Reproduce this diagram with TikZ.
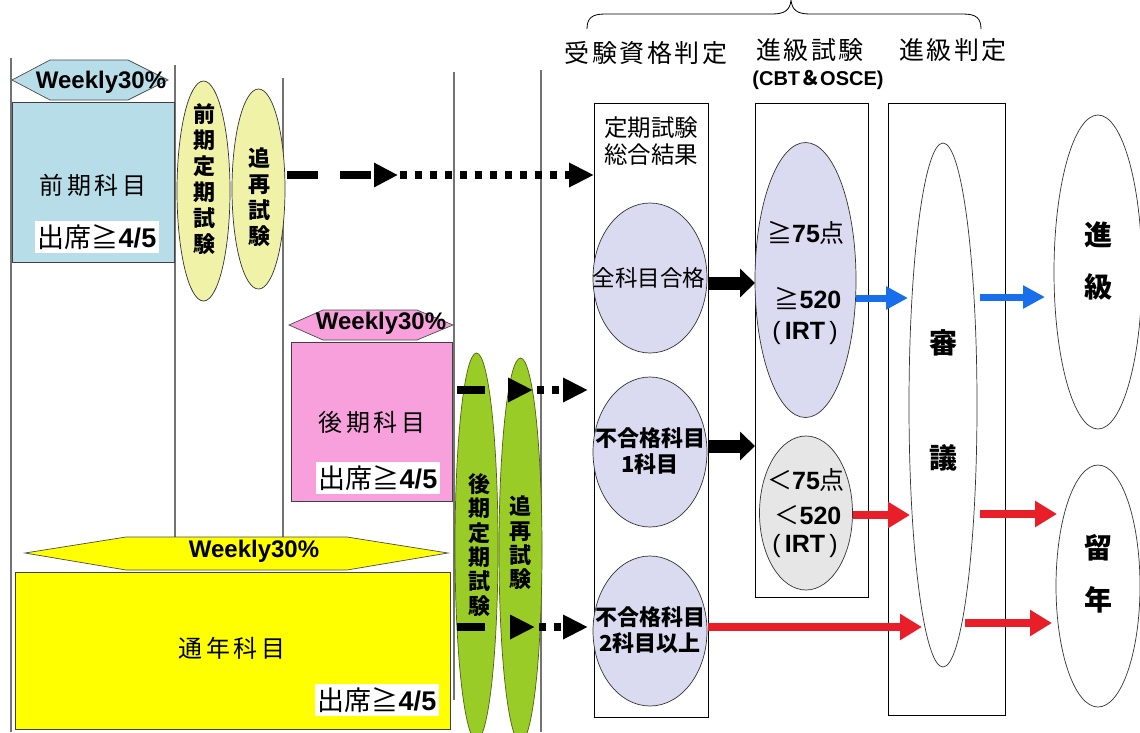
\documentclass[tikz,border=0pt]{standalone}
\usepackage{fontspec}
\setmainfont{Liberation Sans}
\newfontfamily\jp{Noto Sans CJK JP}
\usetikzlibrary{arrows.meta,shapes.geometric}
\definecolor{lblue}{RGB}{183,221,232}
\definecolor{pyel}{RGB}{240,242,168}
\definecolor{pinkA}{RGB}{247,160,220}
\definecolor{yelA}{RGB}{255,255,0}
\definecolor{grn}{RGB}{154,204,40}
\definecolor{grnD}{RGB}{80,100,10}
\definecolor{lav}{RGB}{218,218,240}
\definecolor{gry}{RGB}{230,230,230}
\definecolor{arrblue}{RGB}{25,110,235}
\definecolor{arrred}{RGB}{232,30,40}
\tikzset{
  vline/.style={draw=black!55, line width=1.3pt},
  frame/.style={draw=black, line width=0.9pt, inner sep=0pt, anchor=north west},
  hexfill/.style={draw=black!70, line width=0.7pt},
  subjbox/.style={draw=black!75, line width=0.8pt, inner sep=0pt, anchor=north west},
  wk/.style={font=\bfseries\fontsize{24}{24}\selectfont, inner sep=0pt},
  subj/.style={font=\jp\fontsize{24}{24}\selectfont\addfontfeature{LetterSpace=14}, inner sep=0pt},
  att/.style={fill=white, inner sep=3pt, font=\fontsize{27}{27}\selectfont},
  vtext/.style={font=\jp\bfseries\fontsize{22}{26}\selectfont, align=center, inner sep=0pt},
  vtextg/.style={font=\jp\bfseries\fontsize{22}{24.3}\selectfont, align=center, inner sep=0pt},
  oval/.style={ellipse, draw=black!80, line width=0.7pt, inner sep=0pt},
  hdr/.style={font=\jp\fontsize{25}{25}\selectfont\addfontfeature{LetterSpace=10}, inner sep=0pt},
  ctext/.style={font=\jp\fontsize{22.5}{26}\selectfont, align=center, inner sep=0pt},
  ctextb/.style={font=\jp\bfseries\fontsize{22}{26}\selectfont, align=center, inner sep=0pt},
  sc/.style={font=\fontsize{25}{25}\selectfont, inner sep=0pt},
  big/.style={font=\jp\bfseries\fontsize{28}{28}\selectfont, inner sep=0pt},
  dashA/.style={line width=8pt, dash pattern=on 31pt off 22pt, -{Triangle[length=24pt,width=23pt]}},
  dashB/.style={line width=8pt, dash pattern=on 28pt off 60pt, -{Triangle[length=25pt,width=23pt]}},
  dotA/.style={line width=8pt, dash pattern=on 7pt off 8pt, -{Triangle[length=25pt,width=23pt]}},
  blk/.style={line width=13pt, -{Triangle[length=15pt,width=28pt]}},
  blu/.style={draw=arrblue, line width=7pt, -{Triangle[length=22pt,width=22pt]}},
  redA/.style={draw=arrred, line width=8pt, -{Triangle[length=22pt,width=25pt]}}
}
\begin{document}
\begin{tikzpicture}[x=1pt,y=-1pt]
\useasboundingbox (0,0) rectangle (1140,732);
\fill[white] (0,0) rectangle (1140,732);

% vertical guide lines
\draw[vline] (11,58) -- (11,732);
\draw[vline] (175,65) -- (175,537);
\draw[vline] (283,78) -- (283,537);
\draw[vline] (454,72) -- (454,700);
\draw[vline] (541,70) -- (541,732);

% brace
\draw[line width=0.8pt] (587,29) .. controls (587,18) and (592,14) .. (605,14) -- (772,14)
  .. controls (785,14) and (790,10) .. (791,0) .. controls (792,10) and (797,14) .. (810,14)
  -- (963,14) .. controls (976,14) and (981,18) .. (981,29);
\node[hdr] (h1) at (646,53) {受験資格判定};
\node[hdr] (h2) at (810,50) {進級試験};
\node[font=\bfseries\fontsize{20}{20}\selectfont, inner sep=0pt] (h2b) at (818,80) {(CBT{\jp ＆}OSCE)};
\node[hdr] (h3) at (953,50) {進級判定};

% ---- first semester (blue)
\filldraw[hexfill, fill=lblue] (12,80) -- (50,60) -- (128,60) -- (168,80) -- (128,100) -- (50,100) -- cycle;
\node[wk] (wkA) at (101,82) {Weekly30\%};
\node[subjbox, fill=lblue, minimum width=162pt, minimum height=160pt] (zenki) at (12,102) {};
\node[subj] (zenkiT) at (93,185) {前期科目};
\node[att] (attA) at (97,237) {{\jp 出席≧}\textbf{4/5}};

\node[oval, fill=pyel, minimum width=53pt, minimum height=220pt] (Y1) at (203.5,191) {};
\node[vtext] (Y1t) at (204,179) {前\\期\\定\\期\\試\\験};
\node[oval, fill=pyel, minimum width=53pt, minimum height=200pt] (Y2) at (258.5,189) {};
\node[vtext] (Y2t) at (259,197) {追\\再\\試\\験};

% ---- second semester (pink)
\filldraw[hexfill, fill=pinkA] (289,325) -- (323,310) -- (417,310) -- (453,325) -- (417,340) -- (323,340) -- cycle;
\node[wk] (wkB) at (381,323) {Weekly30\%};
\node[subjbox, fill=pinkA, minimum width=161pt, minimum height=159pt] (kouki) at (291,342) {};
\node[subj] (koukiT) at (372,422) {後期科目};
\node[att] (attB) at (378,478) {{\jp 出席≧}\textbf{4/5}};

% ---- full year (yellow)
\filldraw[hexfill, fill=yelA] (25,553) -- (126,537) -- (347,537) -- (448,553) -- (347,570) -- (126,570) -- cycle;
\node[wk] (wkC) at (254,551) {Weekly30\%};
\node[subjbox, fill=yelA, minimum width=435pt, minimum height=157pt] (tsunen) at (15,572) {};
\node[subj] (tsunenT) at (232,648) {通年科目};
\node[att] (attC) at (377,700) {{\jp 出席≧}\textbf{4/5}};

\node[oval, draw=grnD, fill=grn, minimum width=43pt, minimum height=387pt] (E1) at (476.5,546.5) {};
\node[vtextg] (E1t) at (479,545) {後\\期\\定\\期\\試\\験};
\node[oval, draw=grnD, fill=grn, minimum width=43pt, minimum height=384pt] (E2) at (520.5,550) {};
\node[vtextg] (E2t) at (520,543) {追\\再\\試\\験};

% ---- column boxes
\node[frame, minimum width=114pt, minimum height=614pt] (B1) at (594,103) {};
\node[frame, minimum width=113pt, minimum height=494pt] (B2) at (755,103) {};
\node[frame, minimum width=117pt, minimum height=612pt] (B3) at (888,103) {};

\node[font=\jp\fontsize{23.5}{27}\selectfont, align=center, inner sep=0pt] (B1t) at (651,141) {定期試験\\総合結果};

\node[oval, fill=lav, minimum width=114pt, minimum height=150pt] (C1) at (650,278) {};
\node[ctext] (C1t) at (649,278) {全科目合格};
\node[oval, fill=lav, minimum width=114pt, minimum height=150pt] (C2) at (650,452) {};
\node[ctextb] (C2t) at (650,451) {不合格科目\\1科目};
\node[oval, fill=lav, minimum width=114pt, minimum height=150pt] (C3) at (650,631) {};
\node[ctextb] (C3t) at (650,630) {不合格科目\\2科目以上};

\node[oval, fill=lav, minimum width=101pt, minimum height=275pt] (D1) at (805.5,280) {};
\node[sc] (D1a) at (806,233) {{\jp ≧}\textbf{75}{\jp 点}};
\node[sc] (D1b) at (808,298) {{\jp ≧}\textbf{520}};
\node[sc] (D1c) at (805,333) {(\,\textbf{IRT}\,)};
\node[oval, fill=gry, minimum width=93pt, minimum height=154pt] (D2) at (806,513) {};
\node[sc] (D2a) at (806,480) {{\jp ＜}\textbf{75}{\jp 点}};
\node[sc] (D2b) at (808,515) {{\jp ＜}\textbf{520}};
\node[sc] (D2c) at (805,546) {(\,\textbf{IRT}\,)};

\node[oval, minimum width=68pt, minimum height=524pt] (S) at (943,405) {};
\node[big] (S1) at (943,343) {審};
\node[big] (S2) at (943,458) {議};

\node[oval, minimum width=88pt, minimum height=314pt] (P) at (1098,272) {};
\node[big] (P1) at (1098,235) {進};
\node[big] (P2) at (1098,287) {級};
\node[oval, minimum width=84pt, minimum height=242pt] (R) at (1098,586) {};
\node[big] (R1) at (1098,548) {留};
\node[big] (R2) at (1098,600) {年};

% ---- dashed connectors
\coordinate (t0) at (287,175);
\coordinate (t1) at (398,175);
\coordinate (t2) at (400,175);
\draw[dashA] (t0) -- (t1);
\draw[dotA] (t2) -- (B1.west |- t2);

\coordinate (p0) at (457,390);
\coordinate (p1) at (533,390);
\coordinate (p2) at (537,390);
\draw[dashB] (p0) -- (p1);
\draw[dotA] (p2) -- (588,390);

\coordinate (q0) at (457,627);
\coordinate (q1) at (535,627);
\coordinate (q2) at (539,627);
\draw[dashB] (q0) -- (q1);
\draw[dotA] (q2) -- (588,627);

% ---- block arrows
\draw[blk] (708,283) -- (B2.west |- 0,283);
\draw[blk] (709,446) -- (B2.west |- 0,446);
\draw[blu] (856,298) -- (908,298);
\draw[blu] (980,297) -- (1045,297);
\draw[redA] (853,515) -- (910,515);
\draw[redA] (980,514) -- (1057,514);
\draw[redA] (708,627) -- (922,627);
\draw[redA] (965,623) -- (1052,623);
\end{tikzpicture}
\end{document}
